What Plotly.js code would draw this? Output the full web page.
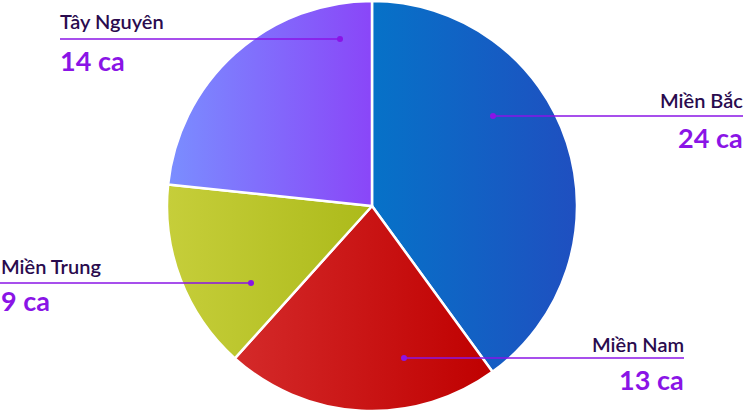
<!DOCTYPE html>
<html>
<head>
<meta charset="utf-8">
<script src="https://cdn.plot.ly/plotly-3.0.1.min.js"></script>
<style>html,body{margin:0;padding:0;background:#fff;}#chart{width:744px;height:413px;}</style>
</head>
<body>
<div id="chart"></div>
<script>
const regions = ["Miền Bắc", "Miền Nam", "Miền Trung", "Tây Nguyên"];
const cases = [24, 13, 9, 14];
const unitLabel = "ca";
const gradLeft = ["#0672c8", "#d42a2a", "#c6ce3a", "#7a8eff"];
const gradRight = ["#1f4fc0", "#bf0000", "#acba1a", "#8a46f8"];

const W = 744, H = 413;
const px = x => x / W;
const py = y => 1 - y / H;

const labelPos = [
  {x: 744, anchor: "right", nameY: 100, lineY: 116, numY: 138, x0: 493, x1: 743, dot: 493},
  {x: 685, anchor: "right", nameY: 344, lineY: 358, numY: 379, x0: 404, x1: 684, dot: 404},
  {x: 0, anchor: "left", nameY: 266, lineY: 283, numY: 300, x0: 0, x1: 251, dot: 251},
  {x: 59, anchor: "left", nameY: 21, lineY: 39, numY: 61, x0: 60, x1: 340, dot: 340}
];

const purple = "#8a14e6";
const nameColor = "#2a0b4e";
const annotations = [];
const shapes = [];
regions.forEach((r, i) => {
  const p = labelPos[i];
  annotations.push({
    xref: "paper", yref: "paper", x: px(p.x), y: py(p.nameY),
    xanchor: p.anchor, yanchor: "middle", showarrow: false, borderpad: 0,
    text: r, font: {family: "Lato, 'Open Sans', sans-serif", size: 20, color: nameColor, weight: 600}
  });
  annotations.push({
    xref: "paper", yref: "paper", x: px(p.x), y: py(p.numY),
    xanchor: p.anchor, yanchor: "middle", showarrow: false, borderpad: 0,
    text: "<b>" + cases[i] + " " + unitLabel + "</b>",
    font: {family: "Lato, 'Open Sans', sans-serif", size: 27, color: purple, weight: 900}
  });
  shapes.push({type: "line", xref: "paper", yref: "paper",
    x0: px(p.x0), x1: px(p.x1), y0: py(p.lineY), y1: py(p.lineY),
    line: {color: purple, width: 1.5}, layer: "above"});
  shapes.push({type: "circle", xref: "paper", yref: "paper",
    x0: px(p.dot - 3), x1: px(p.dot + 3), y0: py(p.lineY - 3), y1: py(p.lineY + 3),
    fillcolor: purple, line: {width: 0}, layer: "above"});
});

const cx = 372, cy = 206, rad = 205;
const data = [{
  type: "pie",
  labels: regions,
  values: cases,
  sort: false,
  direction: "clockwise",
  rotation: 0,
  textinfo: "none",
  hoverinfo: "none",
  marker: {colors: gradLeft, line: {color: "#ffffff", width: 2.5}},
  domain: {x: [px(cx - rad), px(cx + rad)], y: [py(cy + rad), py(cy - rad)]}
}];

const layout = {
  width: W, height: H,
  margin: {l: 0, r: 0, t: 0, b: 0},
  paper_bgcolor: "#ffffff",
  showlegend: false,
  annotations: annotations,
  shapes: shapes
};

Plotly.newPlot("chart", data, layout, {staticPlot: true}).then(gd => {
  const svg = gd.querySelector(".main-svg");
  const ns = "http://www.w3.org/2000/svg";
  let defs = svg.querySelector("defs");
  if (!defs) { defs = document.createElementNS(ns, "defs"); svg.insertBefore(defs, svg.firstChild); }
  const paths = gd.querySelectorAll(".slice path.surface");
  paths.forEach((p, i) => {
    const g = document.createElementNS(ns, "linearGradient");
    g.setAttribute("id", "sliceGrad" + i);
    g.setAttribute("x1", "0"); g.setAttribute("y1", "0");
    g.setAttribute("x2", "1"); g.setAttribute("y2", "0");
    const s1 = document.createElementNS(ns, "stop");
    s1.setAttribute("offset", "0"); s1.setAttribute("stop-color", gradLeft[i]);
    const s2 = document.createElementNS(ns, "stop");
    s2.setAttribute("offset", "1"); s2.setAttribute("stop-color", gradRight[i]);
    g.appendChild(s1); g.appendChild(s2);
    defs.appendChild(g);
    p.style.fill = "url(#sliceGrad" + i + ")";
  });
});
</script>
</body>
</html>
